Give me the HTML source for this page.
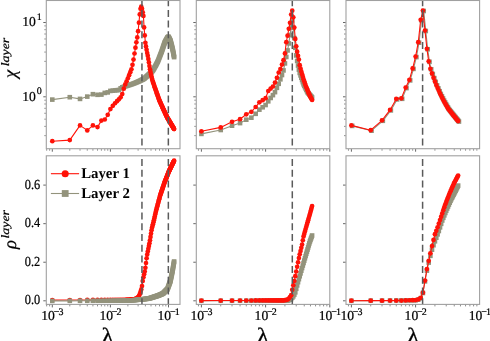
<!DOCTYPE html>
<html><head><meta charset="utf-8"><title>chart</title>
<style>html,body{margin:0;padding:0;background:#fff;width:490px;height:341px;overflow:hidden}
svg{display:block;font-family:"Liberation Serif",serif;will-change:transform}text{text-rendering:geometricPrecision}</style></head>
<body>
<svg width="490" height="341" viewBox="0 0 490 341">
<rect width="490" height="341" fill="#ffffff"/>
<clipPath id="clip0top"><rect x="46.3" y="0.5" width="133.7" height="148.2"/></clipPath>
<g clip-path="url(#clip0top)"><path d="M52.3 99.6 L69.79 97.2 L80.02 98.9 L87.28 96.6 L92.91 94.2 L97.51 94.8 L101.4 94.6 L104.77 92.9 L107.74 92.4 L110.4 90.9 L112.8 90.64 L115 90.41 L117.02 90.2 L118.89 90 L120.63 88.38 L122.26 87.3 L123.79 86.82 L125.23 86.36 L126.6 85.93 L127.89 85.52 L129.12 85.14 L130.29 84.76 L131.42 84.35 L132.49 83.94 L133.52 83.55 L134.51 83.17 L135.46 82.81 L136.38 82.43 L137.27 82.04 L138.12 81.66 L138.95 81.28 L139.75 80.9 L140.53 80.52 L141.28 80.16 L142.01 79.81 L142.72 79.47 L143.41 79.13 L144.09 78.73 L144.74 78.14 L145.38 77.57 L146 77 L146.61 76.46 L147.2 75.92 L147.78 75.4 L148.35 74.89 L148.91 74.39 L149.45 73.9 L149.98 73.42 L150.5 72.95 L151.01 72.49 L151.51 71.94 L152 71.4 L152.48 70.87 L152.95 70.35 L153.42 69.57 L153.87 68.76 L154.32 67.97 L154.76 67.2 L155.19 66.44 L155.61 65.69 L156.03 64.94 L156.44 64.12 L156.84 63.32 L157.24 62.52 L157.63 61.74 L158.02 60.96 L158.39 59.98 L158.77 59.01 L159.14 58.05 L159.5 57.11 L159.86 56.18 L160.21 55.26 L160.56 54.36 L160.9 53.47 L161.24 52.59 L161.58 51.72 L161.91 50.8 L162.23 49.84 L162.55 48.9 L162.87 47.97 L163.18 47.05 L163.49 46.14 L163.8 45.24 L164.1 44.36 L164.4 43.48 L164.69 42.62 L164.99 42.1 L165.27 41.59 L165.56 41.09 L165.84 40.59 L166.12 40.1 L166.4 39.62 L166.67 39.14 L166.94 38.66 L167.21 38.19 L167.47 37.73 L167.73 37.37 L167.99 37.11 L168.25 36.85 L168.5 36.9 L168.75 37.42 L169 37.93 L169.25 38.43 L169.49 38.93 L169.73 39.42 L169.97 39.91 L170.21 40.4 L170.44 40.88 L170.67 41.5 L170.9 42.42 L171.13 43.33 L171.36 44.24 L171.58 45.14 L171.81 46.02 L172.03 46.91 L172.25 47.78 L172.46 48.65 L172.68 49.51 L172.89 50.48 L173.1 51.61 L173.31 52.73 L173.52 53.84 L173.72 54.95 L173.93 56.04 L174.13 57.13" fill="none" stroke="#93937c" stroke-width="1.1" stroke-linejoin="round"/><g fill="#93937c"><rect x="50" y="97.3" width="4.6" height="4.6"/><rect x="67.49" y="94.9" width="4.6" height="4.6"/><rect x="77.72" y="96.6" width="4.6" height="4.6"/><rect x="84.98" y="94.3" width="4.6" height="4.6"/><rect x="90.61" y="91.9" width="4.6" height="4.6"/><rect x="95.21" y="92.5" width="4.6" height="4.6"/><rect x="99.1" y="92.3" width="4.6" height="4.6"/><rect x="102.47" y="90.6" width="4.6" height="4.6"/><rect x="105.44" y="90.1" width="4.6" height="4.6"/><rect x="108.1" y="88.6" width="4.6" height="4.6"/><rect x="110.5" y="88.34" width="4.6" height="4.6"/><rect x="112.7" y="88.11" width="4.6" height="4.6"/><rect x="114.72" y="87.9" width="4.6" height="4.6"/><rect x="116.59" y="87.7" width="4.6" height="4.6"/><rect x="118.33" y="86.08" width="4.6" height="4.6"/><rect x="119.96" y="85" width="4.6" height="4.6"/><rect x="121.49" y="84.52" width="4.6" height="4.6"/><rect x="122.93" y="84.06" width="4.6" height="4.6"/><rect x="124.3" y="83.63" width="4.6" height="4.6"/><rect x="125.59" y="83.22" width="4.6" height="4.6"/><rect x="126.82" y="82.84" width="4.6" height="4.6"/><rect x="127.99" y="82.46" width="4.6" height="4.6"/><rect x="129.12" y="82.05" width="4.6" height="4.6"/><rect x="130.19" y="81.64" width="4.6" height="4.6"/><rect x="131.22" y="81.25" width="4.6" height="4.6"/><rect x="132.21" y="80.87" width="4.6" height="4.6"/><rect x="133.16" y="80.51" width="4.6" height="4.6"/><rect x="134.08" y="80.13" width="4.6" height="4.6"/><rect x="134.97" y="79.74" width="4.6" height="4.6"/><rect x="135.82" y="79.36" width="4.6" height="4.6"/><rect x="136.65" y="78.98" width="4.6" height="4.6"/><rect x="137.45" y="78.6" width="4.6" height="4.6"/><rect x="138.23" y="78.22" width="4.6" height="4.6"/><rect x="138.98" y="77.86" width="4.6" height="4.6"/><rect x="139.71" y="77.51" width="4.6" height="4.6"/><rect x="140.42" y="77.17" width="4.6" height="4.6"/><rect x="141.11" y="76.83" width="4.6" height="4.6"/><rect x="141.79" y="76.43" width="4.6" height="4.6"/><rect x="142.44" y="75.84" width="4.6" height="4.6"/><rect x="143.08" y="75.27" width="4.6" height="4.6"/><rect x="143.7" y="74.7" width="4.6" height="4.6"/><rect x="144.31" y="74.16" width="4.6" height="4.6"/><rect x="144.9" y="73.62" width="4.6" height="4.6"/><rect x="145.48" y="73.1" width="4.6" height="4.6"/><rect x="146.05" y="72.59" width="4.6" height="4.6"/><rect x="146.61" y="72.09" width="4.6" height="4.6"/><rect x="147.15" y="71.6" width="4.6" height="4.6"/><rect x="147.68" y="71.12" width="4.6" height="4.6"/><rect x="148.2" y="70.65" width="4.6" height="4.6"/><rect x="148.71" y="70.19" width="4.6" height="4.6"/><rect x="149.21" y="69.64" width="4.6" height="4.6"/><rect x="149.7" y="69.1" width="4.6" height="4.6"/><rect x="150.18" y="68.57" width="4.6" height="4.6"/><rect x="150.65" y="68.05" width="4.6" height="4.6"/><rect x="151.12" y="67.27" width="4.6" height="4.6"/><rect x="151.57" y="66.46" width="4.6" height="4.6"/><rect x="152.02" y="65.67" width="4.6" height="4.6"/><rect x="152.46" y="64.9" width="4.6" height="4.6"/><rect x="152.89" y="64.14" width="4.6" height="4.6"/><rect x="153.31" y="63.39" width="4.6" height="4.6"/><rect x="153.73" y="62.64" width="4.6" height="4.6"/><rect x="154.14" y="61.82" width="4.6" height="4.6"/><rect x="154.54" y="61.02" width="4.6" height="4.6"/><rect x="154.94" y="60.22" width="4.6" height="4.6"/><rect x="155.33" y="59.44" width="4.6" height="4.6"/><rect x="155.72" y="58.66" width="4.6" height="4.6"/><rect x="156.09" y="57.68" width="4.6" height="4.6"/><rect x="156.47" y="56.71" width="4.6" height="4.6"/><rect x="156.84" y="55.75" width="4.6" height="4.6"/><rect x="157.2" y="54.81" width="4.6" height="4.6"/><rect x="157.56" y="53.88" width="4.6" height="4.6"/><rect x="157.91" y="52.96" width="4.6" height="4.6"/><rect x="158.26" y="52.06" width="4.6" height="4.6"/><rect x="158.6" y="51.17" width="4.6" height="4.6"/><rect x="158.94" y="50.29" width="4.6" height="4.6"/><rect x="159.28" y="49.42" width="4.6" height="4.6"/><rect x="159.61" y="48.5" width="4.6" height="4.6"/><rect x="159.93" y="47.54" width="4.6" height="4.6"/><rect x="160.25" y="46.6" width="4.6" height="4.6"/><rect x="160.57" y="45.67" width="4.6" height="4.6"/><rect x="160.88" y="44.75" width="4.6" height="4.6"/><rect x="161.19" y="43.84" width="4.6" height="4.6"/><rect x="161.5" y="42.94" width="4.6" height="4.6"/><rect x="161.8" y="42.06" width="4.6" height="4.6"/><rect x="162.1" y="41.18" width="4.6" height="4.6"/><rect x="162.39" y="40.32" width="4.6" height="4.6"/><rect x="162.69" y="39.8" width="4.6" height="4.6"/><rect x="162.97" y="39.29" width="4.6" height="4.6"/><rect x="163.26" y="38.79" width="4.6" height="4.6"/><rect x="163.54" y="38.29" width="4.6" height="4.6"/><rect x="163.82" y="37.8" width="4.6" height="4.6"/><rect x="164.1" y="37.32" width="4.6" height="4.6"/><rect x="164.37" y="36.84" width="4.6" height="4.6"/><rect x="164.64" y="36.36" width="4.6" height="4.6"/><rect x="164.91" y="35.89" width="4.6" height="4.6"/><rect x="165.17" y="35.43" width="4.6" height="4.6"/><rect x="165.43" y="35.07" width="4.6" height="4.6"/><rect x="165.69" y="34.81" width="4.6" height="4.6"/><rect x="165.95" y="34.55" width="4.6" height="4.6"/><rect x="166.2" y="34.6" width="4.6" height="4.6"/><rect x="166.45" y="35.12" width="4.6" height="4.6"/><rect x="166.7" y="35.63" width="4.6" height="4.6"/><rect x="166.95" y="36.13" width="4.6" height="4.6"/><rect x="167.19" y="36.63" width="4.6" height="4.6"/><rect x="167.43" y="37.12" width="4.6" height="4.6"/><rect x="167.67" y="37.61" width="4.6" height="4.6"/><rect x="167.91" y="38.1" width="4.6" height="4.6"/><rect x="168.14" y="38.58" width="4.6" height="4.6"/><rect x="168.37" y="39.2" width="4.6" height="4.6"/><rect x="168.6" y="40.12" width="4.6" height="4.6"/><rect x="168.83" y="41.03" width="4.6" height="4.6"/><rect x="169.06" y="41.94" width="4.6" height="4.6"/><rect x="169.28" y="42.84" width="4.6" height="4.6"/><rect x="169.51" y="43.72" width="4.6" height="4.6"/><rect x="169.73" y="44.61" width="4.6" height="4.6"/><rect x="169.95" y="45.48" width="4.6" height="4.6"/><rect x="170.16" y="46.35" width="4.6" height="4.6"/><rect x="170.38" y="47.21" width="4.6" height="4.6"/><rect x="170.59" y="48.18" width="4.6" height="4.6"/><rect x="170.8" y="49.31" width="4.6" height="4.6"/><rect x="171.01" y="50.43" width="4.6" height="4.6"/><rect x="171.22" y="51.54" width="4.6" height="4.6"/><rect x="171.42" y="52.65" width="4.6" height="4.6"/><rect x="171.63" y="53.74" width="4.6" height="4.6"/><rect x="171.83" y="54.83" width="4.6" height="4.6"/></g><path d="M52.3 141.2 L69.79 140.1 L80.02 125.4 L87.28 130.4 L92.91 125.4 L97.51 127.1 L101.4 120.6 L104.77 119.5 L107.74 114.8 L110.4 109.1 L112.8 105.87 L115 103.27 L117.02 101.18 L118.89 99.31 L120.63 97.25 L122.26 94.08 L123.79 88.65 L125.23 84.43 L126.6 81.36 L127.89 78.25 L129.12 75.13 L130.29 72.16 L131.42 69.36 L132.49 64.84 L133.52 59.62 L134.51 53.51 L135.46 47.64 L136.38 42.33 L137.27 37.44 L138.12 31.2 L138.95 22.64 L139.75 14.39 L140.53 8.73 L141.28 6.64 L142.01 8.81 L142.72 12.24 L143.41 15.9 L144.09 27.39 L144.74 35.4 L145.38 42.77 L146 46.44 L146.61 49.86 L147.2 53 L147.78 55.84 L148.35 59.06 L148.91 62.42 L149.45 66.1 L149.98 69.25 L150.5 71.94 L151.01 74.47 L151.51 76.61 L152 78.71 L152.48 80.54 L152.95 81.96 L153.42 83.35 L153.87 84.71 L154.32 86.05 L154.76 87.37 L155.19 88.6 L155.61 89.73 L156.03 90.84 L156.44 92 L156.84 93.18 L157.24 94.34 L157.63 95.48 L158.02 96.61 L158.39 97.72 L158.77 98.81 L159.14 99.68 L159.5 100.53 L159.86 101.36 L160.21 102.18 L160.56 102.98 L160.9 103.78 L161.24 104.57 L161.58 105.34 L161.91 106.06 L162.23 106.76 L162.55 107.46 L162.87 108.15 L163.18 108.82 L163.49 109.49 L163.8 110.16 L164.1 110.81 L164.4 111.46 L164.69 112.1 L164.99 112.73 L165.27 113.35 L165.56 113.97 L165.84 114.58 L166.12 115.18 L166.4 115.78 L166.67 116.37 L166.94 116.95 L167.21 117.48 L167.47 117.92 L167.73 118.36 L167.99 118.79 L168.25 119.22 L168.5 119.65 L168.75 120.07 L169 120.48 L169.25 120.9 L169.49 121.31 L169.73 121.71 L169.97 122.11 L170.21 122.51 L170.44 122.9 L170.67 123.29 L170.9 123.68 L171.13 124.06 L171.36 124.44 L171.58 124.82 L171.81 125.19 L172.03 125.56 L172.25 125.92 L172.46 126.29 L172.68 126.65 L172.89 127 L173.1 127.36 L173.31 127.71 L173.52 128.06 L173.72 128.4 L173.93 128.74 L174.13 129.08" fill="none" stroke="#ff1208" stroke-width="1.1" stroke-linejoin="round"/><g fill="#ff1208"><circle cx="52.3" cy="141.2" r="2.35"/><circle cx="69.79" cy="140.1" r="2.35"/><circle cx="80.02" cy="125.4" r="2.35"/><circle cx="87.28" cy="130.4" r="2.35"/><circle cx="92.91" cy="125.4" r="2.35"/><circle cx="97.51" cy="127.1" r="2.35"/><circle cx="101.4" cy="120.6" r="2.35"/><circle cx="104.77" cy="119.5" r="2.35"/><circle cx="107.74" cy="114.8" r="2.35"/><circle cx="110.4" cy="109.1" r="2.35"/><circle cx="112.8" cy="105.87" r="2.35"/><circle cx="115" cy="103.27" r="2.35"/><circle cx="117.02" cy="101.18" r="2.35"/><circle cx="118.89" cy="99.31" r="2.35"/><circle cx="120.63" cy="97.25" r="2.35"/><circle cx="122.26" cy="94.08" r="2.35"/><circle cx="123.79" cy="88.65" r="2.35"/><circle cx="125.23" cy="84.43" r="2.35"/><circle cx="126.6" cy="81.36" r="2.35"/><circle cx="127.89" cy="78.25" r="2.35"/><circle cx="129.12" cy="75.13" r="2.35"/><circle cx="130.29" cy="72.16" r="2.35"/><circle cx="131.42" cy="69.36" r="2.35"/><circle cx="132.49" cy="64.84" r="2.35"/><circle cx="133.52" cy="59.62" r="2.35"/><circle cx="134.51" cy="53.51" r="2.35"/><circle cx="135.46" cy="47.64" r="2.35"/><circle cx="136.38" cy="42.33" r="2.35"/><circle cx="137.27" cy="37.44" r="2.35"/><circle cx="138.12" cy="31.2" r="2.35"/><circle cx="138.95" cy="22.64" r="2.35"/><circle cx="139.75" cy="14.39" r="2.35"/><circle cx="140.53" cy="8.73" r="2.35"/><circle cx="141.28" cy="6.64" r="2.35"/><circle cx="142.01" cy="8.81" r="2.35"/><circle cx="142.72" cy="12.24" r="2.35"/><circle cx="143.41" cy="15.9" r="2.35"/><circle cx="144.09" cy="27.39" r="2.35"/><circle cx="144.74" cy="35.4" r="2.35"/><circle cx="145.38" cy="42.77" r="2.35"/><circle cx="146" cy="46.44" r="2.35"/><circle cx="146.61" cy="49.86" r="2.35"/><circle cx="147.2" cy="53" r="2.35"/><circle cx="147.78" cy="55.84" r="2.35"/><circle cx="148.35" cy="59.06" r="2.35"/><circle cx="148.91" cy="62.42" r="2.35"/><circle cx="149.45" cy="66.1" r="2.35"/><circle cx="149.98" cy="69.25" r="2.35"/><circle cx="150.5" cy="71.94" r="2.35"/><circle cx="151.01" cy="74.47" r="2.35"/><circle cx="151.51" cy="76.61" r="2.35"/><circle cx="152" cy="78.71" r="2.35"/><circle cx="152.48" cy="80.54" r="2.35"/><circle cx="152.95" cy="81.96" r="2.35"/><circle cx="153.42" cy="83.35" r="2.35"/><circle cx="153.87" cy="84.71" r="2.35"/><circle cx="154.32" cy="86.05" r="2.35"/><circle cx="154.76" cy="87.37" r="2.35"/><circle cx="155.19" cy="88.6" r="2.35"/><circle cx="155.61" cy="89.73" r="2.35"/><circle cx="156.03" cy="90.84" r="2.35"/><circle cx="156.44" cy="92" r="2.35"/><circle cx="156.84" cy="93.18" r="2.35"/><circle cx="157.24" cy="94.34" r="2.35"/><circle cx="157.63" cy="95.48" r="2.35"/><circle cx="158.02" cy="96.61" r="2.35"/><circle cx="158.39" cy="97.72" r="2.35"/><circle cx="158.77" cy="98.81" r="2.35"/><circle cx="159.14" cy="99.68" r="2.35"/><circle cx="159.5" cy="100.53" r="2.35"/><circle cx="159.86" cy="101.36" r="2.35"/><circle cx="160.21" cy="102.18" r="2.35"/><circle cx="160.56" cy="102.98" r="2.35"/><circle cx="160.9" cy="103.78" r="2.35"/><circle cx="161.24" cy="104.57" r="2.35"/><circle cx="161.58" cy="105.34" r="2.35"/><circle cx="161.91" cy="106.06" r="2.35"/><circle cx="162.23" cy="106.76" r="2.35"/><circle cx="162.55" cy="107.46" r="2.35"/><circle cx="162.87" cy="108.15" r="2.35"/><circle cx="163.18" cy="108.82" r="2.35"/><circle cx="163.49" cy="109.49" r="2.35"/><circle cx="163.8" cy="110.16" r="2.35"/><circle cx="164.1" cy="110.81" r="2.35"/><circle cx="164.4" cy="111.46" r="2.35"/><circle cx="164.69" cy="112.1" r="2.35"/><circle cx="164.99" cy="112.73" r="2.35"/><circle cx="165.27" cy="113.35" r="2.35"/><circle cx="165.56" cy="113.97" r="2.35"/><circle cx="165.84" cy="114.58" r="2.35"/><circle cx="166.12" cy="115.18" r="2.35"/><circle cx="166.4" cy="115.78" r="2.35"/><circle cx="166.67" cy="116.37" r="2.35"/><circle cx="166.94" cy="116.95" r="2.35"/><circle cx="167.21" cy="117.48" r="2.35"/><circle cx="167.47" cy="117.92" r="2.35"/><circle cx="167.73" cy="118.36" r="2.35"/><circle cx="167.99" cy="118.79" r="2.35"/><circle cx="168.25" cy="119.22" r="2.35"/><circle cx="168.5" cy="119.65" r="2.35"/><circle cx="168.75" cy="120.07" r="2.35"/><circle cx="169" cy="120.48" r="2.35"/><circle cx="169.25" cy="120.9" r="2.35"/><circle cx="169.49" cy="121.31" r="2.35"/><circle cx="169.73" cy="121.71" r="2.35"/><circle cx="169.97" cy="122.11" r="2.35"/><circle cx="170.21" cy="122.51" r="2.35"/><circle cx="170.44" cy="122.9" r="2.35"/><circle cx="170.67" cy="123.29" r="2.35"/><circle cx="170.9" cy="123.68" r="2.35"/><circle cx="171.13" cy="124.06" r="2.35"/><circle cx="171.36" cy="124.44" r="2.35"/><circle cx="171.58" cy="124.82" r="2.35"/><circle cx="171.81" cy="125.19" r="2.35"/><circle cx="172.03" cy="125.56" r="2.35"/><circle cx="172.25" cy="125.92" r="2.35"/><circle cx="172.46" cy="126.29" r="2.35"/><circle cx="172.68" cy="126.65" r="2.35"/><circle cx="172.89" cy="127" r="2.35"/><circle cx="173.1" cy="127.36" r="2.35"/><circle cx="173.31" cy="127.71" r="2.35"/><circle cx="173.52" cy="128.06" r="2.35"/><circle cx="173.72" cy="128.4" r="2.35"/><circle cx="173.93" cy="128.74" r="2.35"/><circle cx="174.13" cy="129.08" r="2.35"/></g></g>
<line x1="141.95" y1="0.5" x2="141.95" y2="148.7" stroke="#5a5a5a" stroke-width="1.5" stroke-dasharray="7 3.71" stroke-dashoffset="1.3"/>
<line x1="168.35" y1="0.5" x2="168.35" y2="148.7" stroke="#5a5a5a" stroke-width="1.5" stroke-dasharray="7 3.71" stroke-dashoffset="1.3"/>
<rect x="46.3" y="0.5" width="133.7" height="148.2" fill="none" stroke="#a0a0a0" stroke-width="1.1"/>
<path d="M52.3 149.2v2.5M110.4 149.2v2.5M168.5 149.2v2.5M45.8 96.8h-2.5M45.8 22.5h-2.5" stroke="#555555" stroke-width="0.9" fill="none"/>
<path d="M46.67 149.2v1.5M49.64 149.2v1.5M69.79 149.2v1.5M80.02 149.2v1.5M87.28 149.2v1.5M92.91 149.2v1.5M97.51 149.2v1.5M101.4 149.2v1.5M104.77 149.2v1.5M107.74 149.2v1.5M127.89 149.2v1.5M138.12 149.2v1.5M145.38 149.2v1.5M151.01 149.2v1.5M155.61 149.2v1.5M159.5 149.2v1.5M162.87 149.2v1.5M165.84 149.2v1.5M45.8 135.65h-1.5M45.8 126.37h-1.5M45.8 119.17h-1.5M45.8 113.28h-1.5M45.8 108.31h-1.5M45.8 104h-1.5M45.8 100.2h-1.5M45.8 74.43h-1.5M45.8 61.35h-1.5M45.8 52.07h-1.5M45.8 44.87h-1.5M45.8 38.98h-1.5M45.8 34.01h-1.5M45.8 29.7h-1.5M45.8 25.9h-1.5" stroke="#6a6a6a" stroke-width="0.75" fill="none"/>
<clipPath id="clip1top"><rect x="196.3" y="0.5" width="133.5" height="148.2"/></clipPath>
<g clip-path="url(#clip1top)"><path d="M201.4 133.9 L220.73 130 L232.03 125.7 L240.05 123.1 L246.27 119.7 L251.36 117.7 L255.66 113.8 L259.38 109.65 L262.66 107.28 L265.6 105.02 L268.26 101.32 L270.68 97.97 L272.92 95.14 L274.98 92.14 L276.91 87.83 L278.7 83.79 L280.39 79.32 L281.99 75.03 L283.5 70.43 L284.93 63.4 L286.29 56.97 L287.58 50.44 L288.82 43.43 L290.01 35.05 L291.15 27.35 L292.24 20.37 L293.29 27.95 L294.31 38.08 L295.29 47.86 L296.23 55.45 L297.15 60.93 L298.03 65.51 L298.89 69.58 L299.72 72.96 L300.53 75.39 L301.31 77.74 L302.08 80 L302.82 82.2 L303.55 84.29 L304.25 85.7 L304.94 87.08 L305.61 88.43 L306.27 89.74 L306.91 91.02 L307.54 92.27 L308.15 93.02 L308.75 93.7 L309.34 94.37 L309.91 95.02 L310.47 95.66 L311.03 96.28 L311.57 96.9 L312.1 97.5" fill="none" stroke="#93937c" stroke-width="1.1" stroke-linejoin="round"/><g fill="#93937c"><rect x="199.1" y="131.6" width="4.6" height="4.6"/><rect x="218.43" y="127.7" width="4.6" height="4.6"/><rect x="229.73" y="123.4" width="4.6" height="4.6"/><rect x="237.75" y="120.8" width="4.6" height="4.6"/><rect x="243.97" y="117.4" width="4.6" height="4.6"/><rect x="249.06" y="115.4" width="4.6" height="4.6"/><rect x="253.36" y="111.5" width="4.6" height="4.6"/><rect x="257.08" y="107.35" width="4.6" height="4.6"/><rect x="260.36" y="104.98" width="4.6" height="4.6"/><rect x="263.3" y="102.72" width="4.6" height="4.6"/><rect x="265.96" y="99.02" width="4.6" height="4.6"/><rect x="268.38" y="95.67" width="4.6" height="4.6"/><rect x="270.62" y="92.84" width="4.6" height="4.6"/><rect x="272.68" y="89.84" width="4.6" height="4.6"/><rect x="274.61" y="85.53" width="4.6" height="4.6"/><rect x="276.4" y="81.49" width="4.6" height="4.6"/><rect x="278.09" y="77.02" width="4.6" height="4.6"/><rect x="279.69" y="72.73" width="4.6" height="4.6"/><rect x="281.2" y="68.13" width="4.6" height="4.6"/><rect x="282.63" y="61.1" width="4.6" height="4.6"/><rect x="283.99" y="54.67" width="4.6" height="4.6"/><rect x="285.28" y="48.14" width="4.6" height="4.6"/><rect x="286.52" y="41.13" width="4.6" height="4.6"/><rect x="287.71" y="32.75" width="4.6" height="4.6"/><rect x="288.85" y="25.05" width="4.6" height="4.6"/><rect x="289.94" y="18.07" width="4.6" height="4.6"/><rect x="290.99" y="25.65" width="4.6" height="4.6"/><rect x="292.01" y="35.78" width="4.6" height="4.6"/><rect x="292.99" y="45.56" width="4.6" height="4.6"/><rect x="293.93" y="53.15" width="4.6" height="4.6"/><rect x="294.85" y="58.63" width="4.6" height="4.6"/><rect x="295.73" y="63.21" width="4.6" height="4.6"/><rect x="296.59" y="67.28" width="4.6" height="4.6"/><rect x="297.42" y="70.66" width="4.6" height="4.6"/><rect x="298.23" y="73.09" width="4.6" height="4.6"/><rect x="299.01" y="75.44" width="4.6" height="4.6"/><rect x="299.78" y="77.7" width="4.6" height="4.6"/><rect x="300.52" y="79.9" width="4.6" height="4.6"/><rect x="301.25" y="81.99" width="4.6" height="4.6"/><rect x="301.95" y="83.4" width="4.6" height="4.6"/><rect x="302.64" y="84.78" width="4.6" height="4.6"/><rect x="303.31" y="86.13" width="4.6" height="4.6"/><rect x="303.97" y="87.44" width="4.6" height="4.6"/><rect x="304.61" y="88.72" width="4.6" height="4.6"/><rect x="305.24" y="89.97" width="4.6" height="4.6"/><rect x="305.85" y="90.72" width="4.6" height="4.6"/><rect x="306.45" y="91.4" width="4.6" height="4.6"/><rect x="307.04" y="92.07" width="4.6" height="4.6"/><rect x="307.61" y="92.72" width="4.6" height="4.6"/><rect x="308.17" y="93.36" width="4.6" height="4.6"/><rect x="308.73" y="93.98" width="4.6" height="4.6"/><rect x="309.27" y="94.6" width="4.6" height="4.6"/><rect x="309.8" y="95.2" width="4.6" height="4.6"/></g><path d="M201.4 131.3 L220.73 127.4 L232.03 121.8 L240.05 119.2 L246.27 114.3 L251.36 111.8 L255.66 107 L259.38 102.33 L262.66 100.14 L265.6 98.2 L268.26 90.99 L270.68 88.54 L272.92 86.52 L274.98 82.58 L276.91 77.8 L278.7 72.49 L280.39 69.03 L281.99 64.53 L283.5 60.13 L284.93 53.38 L286.29 42.16 L287.58 35.64 L288.82 28.79 L290.01 22.83 L291.15 14.48 L292.24 10.72 L293.29 17.35 L294.31 27.55 L295.29 38.93 L296.23 46.32 L297.15 51.68 L298.03 55.82 L298.89 59.5 L299.72 65.16 L300.53 68.48 L301.31 71.47 L302.08 74.13 L302.82 76.68 L303.55 79.14 L304.25 81.33 L304.94 83.47 L305.61 85.47 L306.27 87.07 L306.91 88.62 L307.54 90.15 L308.15 91.66 L308.75 93.14 L309.34 94.6 L309.91 95.89 L310.47 96.95 L311.03 97.99 L311.57 99 L312.1 100" fill="none" stroke="#ff1208" stroke-width="1.1" stroke-linejoin="round"/><g fill="#ff1208"><circle cx="201.4" cy="131.3" r="2.35"/><circle cx="220.73" cy="127.4" r="2.35"/><circle cx="232.03" cy="121.8" r="2.35"/><circle cx="240.05" cy="119.2" r="2.35"/><circle cx="246.27" cy="114.3" r="2.35"/><circle cx="251.36" cy="111.8" r="2.35"/><circle cx="255.66" cy="107" r="2.35"/><circle cx="259.38" cy="102.33" r="2.35"/><circle cx="262.66" cy="100.14" r="2.35"/><circle cx="265.6" cy="98.2" r="2.35"/><circle cx="268.26" cy="90.99" r="2.35"/><circle cx="270.68" cy="88.54" r="2.35"/><circle cx="272.92" cy="86.52" r="2.35"/><circle cx="274.98" cy="82.58" r="2.35"/><circle cx="276.91" cy="77.8" r="2.35"/><circle cx="278.7" cy="72.49" r="2.35"/><circle cx="280.39" cy="69.03" r="2.35"/><circle cx="281.99" cy="64.53" r="2.35"/><circle cx="283.5" cy="60.13" r="2.35"/><circle cx="284.93" cy="53.38" r="2.35"/><circle cx="286.29" cy="42.16" r="2.35"/><circle cx="287.58" cy="35.64" r="2.35"/><circle cx="288.82" cy="28.79" r="2.35"/><circle cx="290.01" cy="22.83" r="2.35"/><circle cx="291.15" cy="14.48" r="2.35"/><circle cx="292.24" cy="10.72" r="2.35"/><circle cx="293.29" cy="17.35" r="2.35"/><circle cx="294.31" cy="27.55" r="2.35"/><circle cx="295.29" cy="38.93" r="2.35"/><circle cx="296.23" cy="46.32" r="2.35"/><circle cx="297.15" cy="51.68" r="2.35"/><circle cx="298.03" cy="55.82" r="2.35"/><circle cx="298.89" cy="59.5" r="2.35"/><circle cx="299.72" cy="65.16" r="2.35"/><circle cx="300.53" cy="68.48" r="2.35"/><circle cx="301.31" cy="71.47" r="2.35"/><circle cx="302.08" cy="74.13" r="2.35"/><circle cx="302.82" cy="76.68" r="2.35"/><circle cx="303.55" cy="79.14" r="2.35"/><circle cx="304.25" cy="81.33" r="2.35"/><circle cx="304.94" cy="83.47" r="2.35"/><circle cx="305.61" cy="85.47" r="2.35"/><circle cx="306.27" cy="87.07" r="2.35"/><circle cx="306.91" cy="88.62" r="2.35"/><circle cx="307.54" cy="90.15" r="2.35"/><circle cx="308.15" cy="91.66" r="2.35"/><circle cx="308.75" cy="93.14" r="2.35"/><circle cx="309.34" cy="94.6" r="2.35"/><circle cx="309.91" cy="95.89" r="2.35"/><circle cx="310.47" cy="96.95" r="2.35"/><circle cx="311.03" cy="97.99" r="2.35"/><circle cx="311.57" cy="99" r="2.35"/><circle cx="312.1" cy="100" r="2.35"/></g></g>
<line x1="292.3" y1="0.5" x2="292.3" y2="148.7" stroke="#5a5a5a" stroke-width="1.5" stroke-dasharray="7 3.71" stroke-dashoffset="1.3"/>
<rect x="196.3" y="0.5" width="133.5" height="148.2" fill="none" stroke="#a0a0a0" stroke-width="1.1"/>
<path d="M201.4 149.2v2.5M265.6 149.2v2.5M329.8 149.2v2.5M195.8 96.8h-2.5M195.8 22.5h-2.5" stroke="#555555" stroke-width="0.9" fill="none"/>
<path d="M198.46 149.2v1.5M220.73 149.2v1.5M232.03 149.2v1.5M240.05 149.2v1.5M246.27 149.2v1.5M251.36 149.2v1.5M255.66 149.2v1.5M259.38 149.2v1.5M262.66 149.2v1.5M284.93 149.2v1.5M296.23 149.2v1.5M304.25 149.2v1.5M310.47 149.2v1.5M315.56 149.2v1.5M319.86 149.2v1.5M323.58 149.2v1.5M326.86 149.2v1.5M195.8 135.65h-1.5M195.8 126.37h-1.5M195.8 119.17h-1.5M195.8 113.28h-1.5M195.8 108.31h-1.5M195.8 104h-1.5M195.8 100.2h-1.5M195.8 74.43h-1.5M195.8 61.35h-1.5M195.8 52.07h-1.5M195.8 44.87h-1.5M195.8 38.98h-1.5M195.8 34.01h-1.5M195.8 29.7h-1.5M195.8 25.9h-1.5" stroke="#6a6a6a" stroke-width="0.75" fill="none"/>
<clipPath id="clip2top"><rect x="346" y="0.5" width="133.6" height="148.2"/></clipPath>
<g clip-path="url(#clip2top)"><path d="M352.2 125.9 L371.53 130.7 L382.83 120.8 L390.85 110.4 L397.07 99.4 L402.16 98.8 L406.46 88.1 L410.18 80.4 L413.46 68.9 L416.4 57.1 L419.06 42.7 L421.48 20.3 L423.72 11 L425.78 31 L427.71 49.24 L429.5 61.82 L431.19 69.28 L432.79 73.97 L434.3 78.13 L435.73 81.92 L437.09 85.41 L438.38 88.4 L439.62 91.22 L440.81 93.92 L441.95 96.23 L443.04 98.45 L444.09 100.58 L445.11 102.41 L446.09 104.12 L447.03 105.77 L447.95 107.36 L448.83 108.9 L449.69 110.06 L450.52 111.11 L451.33 112.12 L452.11 113.11 L452.88 114.07 L453.62 115 L454.35 115.89 L455.05 116.76 L455.74 117.6 L456.41 118.43 L457.07 119.23 L457.71 120.02 L458.34 120.79 L458.95 121.54" fill="none" stroke="#93937c" stroke-width="1.1" stroke-linejoin="round"/><g fill="#93937c"><rect x="349.9" y="123.6" width="4.6" height="4.6"/><rect x="369.23" y="128.4" width="4.6" height="4.6"/><rect x="380.53" y="118.5" width="4.6" height="4.6"/><rect x="388.55" y="108.1" width="4.6" height="4.6"/><rect x="394.77" y="97.1" width="4.6" height="4.6"/><rect x="399.86" y="96.5" width="4.6" height="4.6"/><rect x="404.16" y="85.8" width="4.6" height="4.6"/><rect x="407.88" y="78.1" width="4.6" height="4.6"/><rect x="411.16" y="66.6" width="4.6" height="4.6"/><rect x="414.1" y="54.8" width="4.6" height="4.6"/><rect x="416.76" y="40.4" width="4.6" height="4.6"/><rect x="419.18" y="18" width="4.6" height="4.6"/><rect x="421.42" y="8.7" width="4.6" height="4.6"/><rect x="423.48" y="28.7" width="4.6" height="4.6"/><rect x="425.41" y="46.94" width="4.6" height="4.6"/><rect x="427.2" y="59.52" width="4.6" height="4.6"/><rect x="428.89" y="66.98" width="4.6" height="4.6"/><rect x="430.49" y="71.67" width="4.6" height="4.6"/><rect x="432" y="75.83" width="4.6" height="4.6"/><rect x="433.43" y="79.62" width="4.6" height="4.6"/><rect x="434.79" y="83.11" width="4.6" height="4.6"/><rect x="436.08" y="86.1" width="4.6" height="4.6"/><rect x="437.32" y="88.92" width="4.6" height="4.6"/><rect x="438.51" y="91.62" width="4.6" height="4.6"/><rect x="439.65" y="93.93" width="4.6" height="4.6"/><rect x="440.74" y="96.15" width="4.6" height="4.6"/><rect x="441.79" y="98.28" width="4.6" height="4.6"/><rect x="442.81" y="100.11" width="4.6" height="4.6"/><rect x="443.79" y="101.82" width="4.6" height="4.6"/><rect x="444.73" y="103.47" width="4.6" height="4.6"/><rect x="445.65" y="105.06" width="4.6" height="4.6"/><rect x="446.53" y="106.6" width="4.6" height="4.6"/><rect x="447.39" y="107.76" width="4.6" height="4.6"/><rect x="448.22" y="108.81" width="4.6" height="4.6"/><rect x="449.03" y="109.82" width="4.6" height="4.6"/><rect x="449.81" y="110.81" width="4.6" height="4.6"/><rect x="450.58" y="111.77" width="4.6" height="4.6"/><rect x="451.32" y="112.7" width="4.6" height="4.6"/><rect x="452.05" y="113.59" width="4.6" height="4.6"/><rect x="452.75" y="114.46" width="4.6" height="4.6"/><rect x="453.44" y="115.3" width="4.6" height="4.6"/><rect x="454.11" y="116.13" width="4.6" height="4.6"/><rect x="454.77" y="116.93" width="4.6" height="4.6"/><rect x="455.41" y="117.72" width="4.6" height="4.6"/><rect x="456.04" y="118.49" width="4.6" height="4.6"/><rect x="456.65" y="119.24" width="4.6" height="4.6"/></g><path d="M351.4 125.4 L370.73 130.2 L382.03 120.3 L390.05 109.9 L396.27 98.9 L401.36 98.3 L405.66 87.6 L409.38 79.9 L412.66 68.4 L415.6 56.6 L418.26 42.2 L420.68 19.8 L422.92 10.5 L424.98 30.5 L426.91 48.74 L428.7 61.32 L430.39 68.78 L431.99 73.47 L433.5 77.63 L434.93 81.42 L436.29 84.91 L437.58 87.9 L438.82 90.72 L440.01 93.42 L441.15 95.73 L442.24 97.95 L443.29 100.08 L444.31 101.91 L445.29 103.62 L446.23 105.27 L447.15 106.86 L448.03 108.4 L448.89 109.56 L449.72 110.61 L450.53 111.62 L451.31 112.61 L452.08 113.57 L452.82 114.5 L453.55 115.39 L454.25 116.26 L454.94 117.1 L455.61 117.93 L456.27 118.73 L456.91 119.52 L457.54 120.29 L458.15 121.04" fill="none" stroke="#ff1208" stroke-width="1.1" stroke-linejoin="round"/><g fill="#ff1208"><circle cx="351.4" cy="125.4" r="2.35"/><circle cx="370.73" cy="130.2" r="2.35"/><circle cx="382.03" cy="120.3" r="2.35"/><circle cx="390.05" cy="109.9" r="2.35"/><circle cx="396.27" cy="98.9" r="2.35"/><circle cx="401.36" cy="98.3" r="2.35"/><circle cx="405.66" cy="87.6" r="2.35"/><circle cx="409.38" cy="79.9" r="2.35"/><circle cx="412.66" cy="68.4" r="2.35"/><circle cx="415.6" cy="56.6" r="2.35"/><circle cx="418.26" cy="42.2" r="2.35"/><circle cx="420.68" cy="19.8" r="2.35"/><circle cx="422.92" cy="10.5" r="2.35"/><circle cx="424.98" cy="30.5" r="2.35"/><circle cx="426.91" cy="48.74" r="2.35"/><circle cx="428.7" cy="61.32" r="2.35"/><circle cx="430.39" cy="68.78" r="2.35"/><circle cx="431.99" cy="73.47" r="2.35"/><circle cx="433.5" cy="77.63" r="2.35"/><circle cx="434.93" cy="81.42" r="2.35"/><circle cx="436.29" cy="84.91" r="2.35"/><circle cx="437.58" cy="87.9" r="2.35"/><circle cx="438.82" cy="90.72" r="2.35"/><circle cx="440.01" cy="93.42" r="2.35"/><circle cx="441.15" cy="95.73" r="2.35"/><circle cx="442.24" cy="97.95" r="2.35"/><circle cx="443.29" cy="100.08" r="2.35"/><circle cx="444.31" cy="101.91" r="2.35"/><circle cx="445.29" cy="103.62" r="2.35"/><circle cx="446.23" cy="105.27" r="2.35"/><circle cx="447.15" cy="106.86" r="2.35"/><circle cx="448.03" cy="108.4" r="2.35"/><circle cx="448.89" cy="109.56" r="2.35"/><circle cx="449.72" cy="110.61" r="2.35"/><circle cx="450.53" cy="111.62" r="2.35"/><circle cx="451.31" cy="112.61" r="2.35"/><circle cx="452.08" cy="113.57" r="2.35"/><circle cx="452.82" cy="114.5" r="2.35"/><circle cx="453.55" cy="115.39" r="2.35"/><circle cx="454.25" cy="116.26" r="2.35"/><circle cx="454.94" cy="117.1" r="2.35"/><circle cx="455.61" cy="117.93" r="2.35"/><circle cx="456.27" cy="118.73" r="2.35"/><circle cx="456.91" cy="119.52" r="2.35"/><circle cx="457.54" cy="120.29" r="2.35"/><circle cx="458.15" cy="121.04" r="2.35"/></g></g>
<line x1="422.6" y1="0.5" x2="422.6" y2="148.7" stroke="#5a5a5a" stroke-width="1.5" stroke-dasharray="7 3.71" stroke-dashoffset="1.3"/>
<rect x="346" y="0.5" width="133.6" height="148.2" fill="none" stroke="#a0a0a0" stroke-width="1.1"/>
<path d="M351.4 149.2v2.5M415.6 149.2v2.5M345.5 96.8h-2.5M345.5 22.5h-2.5" stroke="#555555" stroke-width="0.9" fill="none"/>
<path d="M348.46 149.2v1.5M370.73 149.2v1.5M382.03 149.2v1.5M390.05 149.2v1.5M396.27 149.2v1.5M401.36 149.2v1.5M405.66 149.2v1.5M409.38 149.2v1.5M412.66 149.2v1.5M434.93 149.2v1.5M446.23 149.2v1.5M454.25 149.2v1.5M460.47 149.2v1.5M465.56 149.2v1.5M469.86 149.2v1.5M473.58 149.2v1.5M476.86 149.2v1.5M345.5 135.65h-1.5M345.5 126.37h-1.5M345.5 119.17h-1.5M345.5 113.28h-1.5M345.5 108.31h-1.5M345.5 104h-1.5M345.5 100.2h-1.5M345.5 74.43h-1.5M345.5 61.35h-1.5M345.5 52.07h-1.5M345.5 44.87h-1.5M345.5 38.98h-1.5M345.5 34.01h-1.5M345.5 29.7h-1.5M345.5 25.9h-1.5" stroke="#6a6a6a" stroke-width="0.75" fill="none"/>
<clipPath id="clip0bot"><rect x="46.3" y="155.8" width="133.7" height="148.6"/></clipPath>
<g clip-path="url(#clip0bot)"><path d="M52.3 300.1 L69.79 300.03 L80.02 299.98 L87.28 299.96 L92.91 299.93 L97.51 299.91 L101.4 299.9 L104.77 299.88 L107.74 299.87 L110.4 299.86 L112.8 299.85 L115 299.84 L117.02 299.83 L118.89 299.83 L120.63 299.82 L122.26 299.81 L123.79 299.8 L125.23 299.79 L126.6 299.7 L127.89 299.62 L129.12 299.54 L130.29 299.47 L131.42 299.39 L132.49 299.33 L133.52 299.26 L134.51 299.2 L135.46 298.73 L136.38 298.29 L137.27 297.86 L138.12 297.09 L138.95 296.11 L139.75 294.2 L140.53 291.76 L141.28 289.44 L142.01 286.11 L142.72 281.08 L143.41 277.23 L144.09 274.35 L144.74 271.54 L145.38 267.82 L146 262.98 L146.61 258.25 L147.2 254.48 L147.78 251.58 L148.35 248.74 L148.91 245.97 L149.45 243.26 L149.98 240.32 L150.5 236.89 L151.01 233.54 L151.51 230.25 L152 227.83 L152.48 225.97 L152.95 224.13 L153.42 222.33 L153.87 220.37 L154.32 218.41 L154.76 216.48 L155.19 214.58 L155.61 212.71 L156.03 210.9 L156.44 209.37 L156.84 207.87 L157.24 206.39 L157.63 204.93 L158.02 203.5 L158.39 202.09 L158.77 200.7 L159.14 199.33 L159.5 197.98 L159.86 196.64 L160.21 195.33 L160.56 194.23 L160.9 193.22 L161.24 192.22 L161.58 191.23 L161.91 190.26 L162.23 189.3 L162.55 188.35 L162.87 187.41 L163.18 186.48 L163.49 185.57 L163.8 184.66 L164.1 183.77 L164.4 182.89 L164.69 182.02 L164.99 181.28 L165.27 180.56 L165.56 179.84 L165.84 179.13 L166.12 178.43 L166.4 177.74 L166.67 177.05 L166.94 176.38 L167.21 175.71 L167.47 175.04 L167.73 174.39 L167.99 173.74 L168.25 173.09 L168.5 172.46 L168.75 171.83 L169 171.2 L169.25 170.69 L169.49 170.19 L169.73 169.7 L169.97 169.2 L170.21 168.72 L170.44 168.23 L170.67 167.75 L170.9 167.28 L171.13 166.81 L171.36 166.34 L171.58 165.88 L171.81 165.43 L172.03 164.97 L172.25 164.52 L172.46 164.08 L172.68 163.64 L172.89 163.2 L173.1 162.76 L173.31 162.33 L173.52 161.9 L173.72 161.48 L173.93 161.06 L174.13 160.64" fill="none" stroke="#ff1208" stroke-width="1.1" stroke-linejoin="round"/><g fill="#ff1208"><circle cx="52.3" cy="300.1" r="2.35"/><circle cx="69.79" cy="300.03" r="2.35"/><circle cx="80.02" cy="299.98" r="2.35"/><circle cx="87.28" cy="299.96" r="2.35"/><circle cx="92.91" cy="299.93" r="2.35"/><circle cx="97.51" cy="299.91" r="2.35"/><circle cx="101.4" cy="299.9" r="2.35"/><circle cx="104.77" cy="299.88" r="2.35"/><circle cx="107.74" cy="299.87" r="2.35"/><circle cx="110.4" cy="299.86" r="2.35"/><circle cx="112.8" cy="299.85" r="2.35"/><circle cx="115" cy="299.84" r="2.35"/><circle cx="117.02" cy="299.83" r="2.35"/><circle cx="118.89" cy="299.83" r="2.35"/><circle cx="120.63" cy="299.82" r="2.35"/><circle cx="122.26" cy="299.81" r="2.35"/><circle cx="123.79" cy="299.8" r="2.35"/><circle cx="125.23" cy="299.79" r="2.35"/><circle cx="126.6" cy="299.7" r="2.35"/><circle cx="127.89" cy="299.62" r="2.35"/><circle cx="129.12" cy="299.54" r="2.35"/><circle cx="130.29" cy="299.47" r="2.35"/><circle cx="131.42" cy="299.39" r="2.35"/><circle cx="132.49" cy="299.33" r="2.35"/><circle cx="133.52" cy="299.26" r="2.35"/><circle cx="134.51" cy="299.2" r="2.35"/><circle cx="135.46" cy="298.73" r="2.35"/><circle cx="136.38" cy="298.29" r="2.35"/><circle cx="137.27" cy="297.86" r="2.35"/><circle cx="138.12" cy="297.09" r="2.35"/><circle cx="138.95" cy="296.11" r="2.35"/><circle cx="139.75" cy="294.2" r="2.35"/><circle cx="140.53" cy="291.76" r="2.35"/><circle cx="141.28" cy="289.44" r="2.35"/><circle cx="142.01" cy="286.11" r="2.35"/><circle cx="142.72" cy="281.08" r="2.35"/><circle cx="143.41" cy="277.23" r="2.35"/><circle cx="144.09" cy="274.35" r="2.35"/><circle cx="144.74" cy="271.54" r="2.35"/><circle cx="145.38" cy="267.82" r="2.35"/><circle cx="146" cy="262.98" r="2.35"/><circle cx="146.61" cy="258.25" r="2.35"/><circle cx="147.2" cy="254.48" r="2.35"/><circle cx="147.78" cy="251.58" r="2.35"/><circle cx="148.35" cy="248.74" r="2.35"/><circle cx="148.91" cy="245.97" r="2.35"/><circle cx="149.45" cy="243.26" r="2.35"/><circle cx="149.98" cy="240.32" r="2.35"/><circle cx="150.5" cy="236.89" r="2.35"/><circle cx="151.01" cy="233.54" r="2.35"/><circle cx="151.51" cy="230.25" r="2.35"/><circle cx="152" cy="227.83" r="2.35"/><circle cx="152.48" cy="225.97" r="2.35"/><circle cx="152.95" cy="224.13" r="2.35"/><circle cx="153.42" cy="222.33" r="2.35"/><circle cx="153.87" cy="220.37" r="2.35"/><circle cx="154.32" cy="218.41" r="2.35"/><circle cx="154.76" cy="216.48" r="2.35"/><circle cx="155.19" cy="214.58" r="2.35"/><circle cx="155.61" cy="212.71" r="2.35"/><circle cx="156.03" cy="210.9" r="2.35"/><circle cx="156.44" cy="209.37" r="2.35"/><circle cx="156.84" cy="207.87" r="2.35"/><circle cx="157.24" cy="206.39" r="2.35"/><circle cx="157.63" cy="204.93" r="2.35"/><circle cx="158.02" cy="203.5" r="2.35"/><circle cx="158.39" cy="202.09" r="2.35"/><circle cx="158.77" cy="200.7" r="2.35"/><circle cx="159.14" cy="199.33" r="2.35"/><circle cx="159.5" cy="197.98" r="2.35"/><circle cx="159.86" cy="196.64" r="2.35"/><circle cx="160.21" cy="195.33" r="2.35"/><circle cx="160.56" cy="194.23" r="2.35"/><circle cx="160.9" cy="193.22" r="2.35"/><circle cx="161.24" cy="192.22" r="2.35"/><circle cx="161.58" cy="191.23" r="2.35"/><circle cx="161.91" cy="190.26" r="2.35"/><circle cx="162.23" cy="189.3" r="2.35"/><circle cx="162.55" cy="188.35" r="2.35"/><circle cx="162.87" cy="187.41" r="2.35"/><circle cx="163.18" cy="186.48" r="2.35"/><circle cx="163.49" cy="185.57" r="2.35"/><circle cx="163.8" cy="184.66" r="2.35"/><circle cx="164.1" cy="183.77" r="2.35"/><circle cx="164.4" cy="182.89" r="2.35"/><circle cx="164.69" cy="182.02" r="2.35"/><circle cx="164.99" cy="181.28" r="2.35"/><circle cx="165.27" cy="180.56" r="2.35"/><circle cx="165.56" cy="179.84" r="2.35"/><circle cx="165.84" cy="179.13" r="2.35"/><circle cx="166.12" cy="178.43" r="2.35"/><circle cx="166.4" cy="177.74" r="2.35"/><circle cx="166.67" cy="177.05" r="2.35"/><circle cx="166.94" cy="176.38" r="2.35"/><circle cx="167.21" cy="175.71" r="2.35"/><circle cx="167.47" cy="175.04" r="2.35"/><circle cx="167.73" cy="174.39" r="2.35"/><circle cx="167.99" cy="173.74" r="2.35"/><circle cx="168.25" cy="173.09" r="2.35"/><circle cx="168.5" cy="172.46" r="2.35"/><circle cx="168.75" cy="171.83" r="2.35"/><circle cx="169" cy="171.2" r="2.35"/><circle cx="169.25" cy="170.69" r="2.35"/><circle cx="169.49" cy="170.19" r="2.35"/><circle cx="169.73" cy="169.7" r="2.35"/><circle cx="169.97" cy="169.2" r="2.35"/><circle cx="170.21" cy="168.72" r="2.35"/><circle cx="170.44" cy="168.23" r="2.35"/><circle cx="170.67" cy="167.75" r="2.35"/><circle cx="170.9" cy="167.28" r="2.35"/><circle cx="171.13" cy="166.81" r="2.35"/><circle cx="171.36" cy="166.34" r="2.35"/><circle cx="171.58" cy="165.88" r="2.35"/><circle cx="171.81" cy="165.43" r="2.35"/><circle cx="172.03" cy="164.97" r="2.35"/><circle cx="172.25" cy="164.52" r="2.35"/><circle cx="172.46" cy="164.08" r="2.35"/><circle cx="172.68" cy="163.64" r="2.35"/><circle cx="172.89" cy="163.2" r="2.35"/><circle cx="173.1" cy="162.76" r="2.35"/><circle cx="173.31" cy="162.33" r="2.35"/><circle cx="173.52" cy="161.9" r="2.35"/><circle cx="173.72" cy="161.48" r="2.35"/><circle cx="173.93" cy="161.06" r="2.35"/><circle cx="174.13" cy="160.64" r="2.35"/></g><path d="M52.3 300.9 L69.79 300.83 L80.02 300.79 L87.28 300.76 L92.91 300.74 L97.51 300.72 L101.4 300.71 L104.77 300.7 L107.74 300.69 L110.4 300.68 L112.8 300.67 L115 300.66 L117.02 300.65 L118.89 300.64 L120.63 300.64 L122.26 300.63 L123.79 300.62 L125.23 300.62 L126.6 300.61 L127.89 300.61 L129.12 300.6 L130.29 300.57 L131.42 300.45 L132.49 300.33 L133.52 300.22 L134.51 300.12 L135.46 300.02 L136.38 299.92 L137.27 299.82 L138.12 299.73 L138.95 299.64 L139.75 299.56 L140.53 299.47 L141.28 299.39 L142.01 299.32 L142.72 299.24 L143.41 299.17 L144.09 299.09 L144.74 299.02 L145.38 298.96 L146 298.89 L146.61 298.82 L147.2 298.76 L147.78 298.7 L148.35 298.64 L148.91 298.53 L149.45 298.36 L149.98 298.19 L150.5 298.03 L151.01 297.86 L151.51 297.7 L152 297.55 L152.48 297.39 L152.95 297.24 L153.42 297.1 L153.87 296.95 L154.32 296.81 L154.76 296.67 L155.19 296.53 L155.61 296.39 L156.03 296.26 L156.44 296.13 L156.84 296 L157.24 295.87 L157.63 295.75 L158.02 295.63 L158.39 295.47 L158.77 295.31 L159.14 295.16 L159.5 295 L159.86 294.85 L160.21 294.7 L160.56 294.55 L160.9 294.4 L161.24 294.25 L161.58 294.11 L161.91 293.97 L162.23 293.83 L162.55 293.69 L162.87 293.56 L163.18 293.32 L163.49 293.01 L163.8 292.7 L164.1 292.4 L164.4 292.1 L164.69 291.81 L164.99 291.51 L165.27 291.23 L165.56 290.94 L165.84 290.66 L166.12 290.38 L166.4 290.1 L166.67 289.83 L166.94 289.56 L167.21 289.29 L167.47 289.03 L167.73 288.36 L167.99 287.64 L168.25 286.93 L168.5 286.23 L168.75 285.54 L169 284.85 L169.25 284.17 L169.49 283.5 L169.73 282.83 L169.97 282.17 L170.21 281.51 L170.44 280.86 L170.67 279.84 L170.9 278.71 L171.13 277.59 L171.36 276.48 L171.58 275.38 L171.81 274.29 L172.03 273.21 L172.25 272.14 L172.46 271.08 L172.68 269.95 L172.89 268.68 L173.1 267.43 L173.31 266.19 L173.52 264.96 L173.72 263.73 L173.93 262.52 L174.13 261.5" fill="none" stroke="#93937c" stroke-width="1.1" stroke-linejoin="round"/><g fill="#93937c"><rect x="50" y="298.6" width="4.6" height="4.6"/><rect x="67.49" y="298.53" width="4.6" height="4.6"/><rect x="77.72" y="298.49" width="4.6" height="4.6"/><rect x="84.98" y="298.46" width="4.6" height="4.6"/><rect x="90.61" y="298.44" width="4.6" height="4.6"/><rect x="95.21" y="298.42" width="4.6" height="4.6"/><rect x="99.1" y="298.41" width="4.6" height="4.6"/><rect x="102.47" y="298.4" width="4.6" height="4.6"/><rect x="105.44" y="298.39" width="4.6" height="4.6"/><rect x="108.1" y="298.38" width="4.6" height="4.6"/><rect x="110.5" y="298.37" width="4.6" height="4.6"/><rect x="112.7" y="298.36" width="4.6" height="4.6"/><rect x="114.72" y="298.35" width="4.6" height="4.6"/><rect x="116.59" y="298.34" width="4.6" height="4.6"/><rect x="118.33" y="298.34" width="4.6" height="4.6"/><rect x="119.96" y="298.33" width="4.6" height="4.6"/><rect x="121.49" y="298.32" width="4.6" height="4.6"/><rect x="122.93" y="298.32" width="4.6" height="4.6"/><rect x="124.3" y="298.31" width="4.6" height="4.6"/><rect x="125.59" y="298.31" width="4.6" height="4.6"/><rect x="126.82" y="298.3" width="4.6" height="4.6"/><rect x="127.99" y="298.27" width="4.6" height="4.6"/><rect x="129.12" y="298.15" width="4.6" height="4.6"/><rect x="130.19" y="298.03" width="4.6" height="4.6"/><rect x="131.22" y="297.92" width="4.6" height="4.6"/><rect x="132.21" y="297.82" width="4.6" height="4.6"/><rect x="133.16" y="297.72" width="4.6" height="4.6"/><rect x="134.08" y="297.62" width="4.6" height="4.6"/><rect x="134.97" y="297.52" width="4.6" height="4.6"/><rect x="135.82" y="297.43" width="4.6" height="4.6"/><rect x="136.65" y="297.34" width="4.6" height="4.6"/><rect x="137.45" y="297.26" width="4.6" height="4.6"/><rect x="138.23" y="297.17" width="4.6" height="4.6"/><rect x="138.98" y="297.09" width="4.6" height="4.6"/><rect x="139.71" y="297.02" width="4.6" height="4.6"/><rect x="140.42" y="296.94" width="4.6" height="4.6"/><rect x="141.11" y="296.87" width="4.6" height="4.6"/><rect x="141.79" y="296.79" width="4.6" height="4.6"/><rect x="142.44" y="296.72" width="4.6" height="4.6"/><rect x="143.08" y="296.66" width="4.6" height="4.6"/><rect x="143.7" y="296.59" width="4.6" height="4.6"/><rect x="144.31" y="296.52" width="4.6" height="4.6"/><rect x="144.9" y="296.46" width="4.6" height="4.6"/><rect x="145.48" y="296.4" width="4.6" height="4.6"/><rect x="146.05" y="296.34" width="4.6" height="4.6"/><rect x="146.61" y="296.23" width="4.6" height="4.6"/><rect x="147.15" y="296.06" width="4.6" height="4.6"/><rect x="147.68" y="295.89" width="4.6" height="4.6"/><rect x="148.2" y="295.73" width="4.6" height="4.6"/><rect x="148.71" y="295.56" width="4.6" height="4.6"/><rect x="149.21" y="295.4" width="4.6" height="4.6"/><rect x="149.7" y="295.25" width="4.6" height="4.6"/><rect x="150.18" y="295.09" width="4.6" height="4.6"/><rect x="150.65" y="294.94" width="4.6" height="4.6"/><rect x="151.12" y="294.8" width="4.6" height="4.6"/><rect x="151.57" y="294.65" width="4.6" height="4.6"/><rect x="152.02" y="294.51" width="4.6" height="4.6"/><rect x="152.46" y="294.37" width="4.6" height="4.6"/><rect x="152.89" y="294.23" width="4.6" height="4.6"/><rect x="153.31" y="294.09" width="4.6" height="4.6"/><rect x="153.73" y="293.96" width="4.6" height="4.6"/><rect x="154.14" y="293.83" width="4.6" height="4.6"/><rect x="154.54" y="293.7" width="4.6" height="4.6"/><rect x="154.94" y="293.57" width="4.6" height="4.6"/><rect x="155.33" y="293.45" width="4.6" height="4.6"/><rect x="155.72" y="293.33" width="4.6" height="4.6"/><rect x="156.09" y="293.17" width="4.6" height="4.6"/><rect x="156.47" y="293.01" width="4.6" height="4.6"/><rect x="156.84" y="292.86" width="4.6" height="4.6"/><rect x="157.2" y="292.7" width="4.6" height="4.6"/><rect x="157.56" y="292.55" width="4.6" height="4.6"/><rect x="157.91" y="292.4" width="4.6" height="4.6"/><rect x="158.26" y="292.25" width="4.6" height="4.6"/><rect x="158.6" y="292.1" width="4.6" height="4.6"/><rect x="158.94" y="291.95" width="4.6" height="4.6"/><rect x="159.28" y="291.81" width="4.6" height="4.6"/><rect x="159.61" y="291.67" width="4.6" height="4.6"/><rect x="159.93" y="291.53" width="4.6" height="4.6"/><rect x="160.25" y="291.39" width="4.6" height="4.6"/><rect x="160.57" y="291.26" width="4.6" height="4.6"/><rect x="160.88" y="291.02" width="4.6" height="4.6"/><rect x="161.19" y="290.71" width="4.6" height="4.6"/><rect x="161.5" y="290.4" width="4.6" height="4.6"/><rect x="161.8" y="290.1" width="4.6" height="4.6"/><rect x="162.1" y="289.8" width="4.6" height="4.6"/><rect x="162.39" y="289.51" width="4.6" height="4.6"/><rect x="162.69" y="289.21" width="4.6" height="4.6"/><rect x="162.97" y="288.93" width="4.6" height="4.6"/><rect x="163.26" y="288.64" width="4.6" height="4.6"/><rect x="163.54" y="288.36" width="4.6" height="4.6"/><rect x="163.82" y="288.08" width="4.6" height="4.6"/><rect x="164.1" y="287.8" width="4.6" height="4.6"/><rect x="164.37" y="287.53" width="4.6" height="4.6"/><rect x="164.64" y="287.26" width="4.6" height="4.6"/><rect x="164.91" y="286.99" width="4.6" height="4.6"/><rect x="165.17" y="286.73" width="4.6" height="4.6"/><rect x="165.43" y="286.06" width="4.6" height="4.6"/><rect x="165.69" y="285.34" width="4.6" height="4.6"/><rect x="165.95" y="284.63" width="4.6" height="4.6"/><rect x="166.2" y="283.93" width="4.6" height="4.6"/><rect x="166.45" y="283.24" width="4.6" height="4.6"/><rect x="166.7" y="282.55" width="4.6" height="4.6"/><rect x="166.95" y="281.87" width="4.6" height="4.6"/><rect x="167.19" y="281.2" width="4.6" height="4.6"/><rect x="167.43" y="280.53" width="4.6" height="4.6"/><rect x="167.67" y="279.87" width="4.6" height="4.6"/><rect x="167.91" y="279.21" width="4.6" height="4.6"/><rect x="168.14" y="278.56" width="4.6" height="4.6"/><rect x="168.37" y="277.54" width="4.6" height="4.6"/><rect x="168.6" y="276.41" width="4.6" height="4.6"/><rect x="168.83" y="275.29" width="4.6" height="4.6"/><rect x="169.06" y="274.18" width="4.6" height="4.6"/><rect x="169.28" y="273.08" width="4.6" height="4.6"/><rect x="169.51" y="271.99" width="4.6" height="4.6"/><rect x="169.73" y="270.91" width="4.6" height="4.6"/><rect x="169.95" y="269.84" width="4.6" height="4.6"/><rect x="170.16" y="268.78" width="4.6" height="4.6"/><rect x="170.38" y="267.65" width="4.6" height="4.6"/><rect x="170.59" y="266.38" width="4.6" height="4.6"/><rect x="170.8" y="265.13" width="4.6" height="4.6"/><rect x="171.01" y="263.89" width="4.6" height="4.6"/><rect x="171.22" y="262.66" width="4.6" height="4.6"/><rect x="171.42" y="261.43" width="4.6" height="4.6"/><rect x="171.63" y="260.22" width="4.6" height="4.6"/><rect x="171.83" y="259.2" width="4.6" height="4.6"/></g></g>
<line x1="141.95" y1="155.8" x2="141.95" y2="304.4" stroke="#5a5a5a" stroke-width="1.5" stroke-dasharray="7 3.71" stroke-dashoffset="7.51"/>
<line x1="168.35" y1="155.8" x2="168.35" y2="304.4" stroke="#5a5a5a" stroke-width="1.5" stroke-dasharray="7 3.71" stroke-dashoffset="7.51"/>
<rect x="46.3" y="155.8" width="133.7" height="148.6" fill="none" stroke="#a0a0a0" stroke-width="1.1"/>
<path d="M52.3 304.9v2.5M110.4 304.9v2.5M168.5 304.9v2.5M45.8 300.8h-2.5M45.8 262.23h-2.5M45.8 223.67h-2.5M45.8 185.1h-2.5" stroke="#555555" stroke-width="0.9" fill="none"/>
<path d="M46.67 304.9v1.5M49.64 304.9v1.5M69.79 304.9v1.5M80.02 304.9v1.5M87.28 304.9v1.5M92.91 304.9v1.5M97.51 304.9v1.5M101.4 304.9v1.5M104.77 304.9v1.5M107.74 304.9v1.5M127.89 304.9v1.5M138.12 304.9v1.5M145.38 304.9v1.5M151.01 304.9v1.5M155.61 304.9v1.5M159.5 304.9v1.5M162.87 304.9v1.5M165.84 304.9v1.5" stroke="#6a6a6a" stroke-width="0.75" fill="none"/>
<clipPath id="clip1bot"><rect x="196.3" y="155.8" width="133.5" height="148.6"/></clipPath>
<g clip-path="url(#clip1bot)"><path d="M201.4 300.8 L220.73 300.76 L232.03 300.73 L240.05 300.71 L246.27 300.7 L251.36 300.68 L255.66 300.67 L259.38 300.67 L262.66 300.66 L265.6 300.65 L268.26 300.65 L270.68 300.64 L272.92 300.63 L274.98 300.63 L276.91 300.63 L278.7 300.62 L280.39 300.62 L281.99 300.61 L283.5 300.61 L284.93 300.61 L286.29 300.6 L287.58 300.6 L288.82 300.22 L290.01 299.66 L291.15 299.02 L292.24 297.68 L293.29 296.34 L294.31 294.59 L295.29 292.33 L296.23 288.81 L297.15 285.4 L298.03 282.19 L298.89 279.17 L299.72 276.25 L300.53 273.41 L301.31 270.67 L302.08 268.06 L302.82 265.52 L303.55 263.04 L304.25 260.63 L304.94 258.29 L305.61 256.02 L306.27 253.81 L306.91 251.65 L307.54 249.53 L308.15 247.44 L308.75 245.39 L309.34 243.39 L309.91 241.5 L310.47 239.95 L311.03 238.44 L311.57 236.96 L312.1 235.5" fill="none" stroke="#93937c" stroke-width="1.1" stroke-linejoin="round"/><g fill="#93937c"><rect x="199.1" y="298.5" width="4.6" height="4.6"/><rect x="218.43" y="298.46" width="4.6" height="4.6"/><rect x="229.73" y="298.43" width="4.6" height="4.6"/><rect x="237.75" y="298.41" width="4.6" height="4.6"/><rect x="243.97" y="298.4" width="4.6" height="4.6"/><rect x="249.06" y="298.38" width="4.6" height="4.6"/><rect x="253.36" y="298.37" width="4.6" height="4.6"/><rect x="257.08" y="298.37" width="4.6" height="4.6"/><rect x="260.36" y="298.36" width="4.6" height="4.6"/><rect x="263.3" y="298.35" width="4.6" height="4.6"/><rect x="265.96" y="298.35" width="4.6" height="4.6"/><rect x="268.38" y="298.34" width="4.6" height="4.6"/><rect x="270.62" y="298.33" width="4.6" height="4.6"/><rect x="272.68" y="298.33" width="4.6" height="4.6"/><rect x="274.61" y="298.33" width="4.6" height="4.6"/><rect x="276.4" y="298.32" width="4.6" height="4.6"/><rect x="278.09" y="298.32" width="4.6" height="4.6"/><rect x="279.69" y="298.31" width="4.6" height="4.6"/><rect x="281.2" y="298.31" width="4.6" height="4.6"/><rect x="282.63" y="298.31" width="4.6" height="4.6"/><rect x="283.99" y="298.3" width="4.6" height="4.6"/><rect x="285.28" y="298.3" width="4.6" height="4.6"/><rect x="286.52" y="297.92" width="4.6" height="4.6"/><rect x="287.71" y="297.36" width="4.6" height="4.6"/><rect x="288.85" y="296.72" width="4.6" height="4.6"/><rect x="289.94" y="295.38" width="4.6" height="4.6"/><rect x="290.99" y="294.04" width="4.6" height="4.6"/><rect x="292.01" y="292.29" width="4.6" height="4.6"/><rect x="292.99" y="290.03" width="4.6" height="4.6"/><rect x="293.93" y="286.51" width="4.6" height="4.6"/><rect x="294.85" y="283.1" width="4.6" height="4.6"/><rect x="295.73" y="279.89" width="4.6" height="4.6"/><rect x="296.59" y="276.87" width="4.6" height="4.6"/><rect x="297.42" y="273.95" width="4.6" height="4.6"/><rect x="298.23" y="271.11" width="4.6" height="4.6"/><rect x="299.01" y="268.37" width="4.6" height="4.6"/><rect x="299.78" y="265.76" width="4.6" height="4.6"/><rect x="300.52" y="263.22" width="4.6" height="4.6"/><rect x="301.25" y="260.74" width="4.6" height="4.6"/><rect x="301.95" y="258.33" width="4.6" height="4.6"/><rect x="302.64" y="255.99" width="4.6" height="4.6"/><rect x="303.31" y="253.72" width="4.6" height="4.6"/><rect x="303.97" y="251.51" width="4.6" height="4.6"/><rect x="304.61" y="249.35" width="4.6" height="4.6"/><rect x="305.24" y="247.23" width="4.6" height="4.6"/><rect x="305.85" y="245.14" width="4.6" height="4.6"/><rect x="306.45" y="243.09" width="4.6" height="4.6"/><rect x="307.04" y="241.09" width="4.6" height="4.6"/><rect x="307.61" y="239.2" width="4.6" height="4.6"/><rect x="308.17" y="237.65" width="4.6" height="4.6"/><rect x="308.73" y="236.14" width="4.6" height="4.6"/><rect x="309.27" y="234.66" width="4.6" height="4.6"/><rect x="309.8" y="233.2" width="4.6" height="4.6"/></g><path d="M201.4 300.6 L220.73 300.55 L232.03 300.53 L240.05 300.51 L246.27 300.49 L251.36 300.48 L255.66 300.47 L259.38 300.46 L262.66 300.45 L265.6 300.44 L268.26 300.44 L270.68 300.43 L272.92 300.43 L274.98 300.42 L276.91 300.42 L278.7 300.41 L280.39 300.41 L281.99 300.4 L283.5 300.4 L284.93 300.19 L286.29 299.88 L287.58 299.53 L288.82 298.54 L290.01 297.01 L291.15 295.17 L292.24 289.84 L293.29 285.36 L294.31 280.99 L295.29 276.2 L296.23 271.49 L297.15 266.75 L298.03 262.29 L298.89 258.1 L299.72 254.29 L300.53 251 L301.31 247.79 L302.08 244.55 L302.82 240.24 L303.55 236.38 L304.25 233.89 L304.94 231.46 L305.61 229.09 L306.27 226.77 L306.91 224.52 L307.54 222.32 L308.15 220.18 L308.75 218.08 L309.34 216.03 L309.91 214 L310.47 211.94 L311.03 209.92 L311.57 207.95 L312.1 206.01" fill="none" stroke="#ff1208" stroke-width="1.1" stroke-linejoin="round"/><g fill="#ff1208"><circle cx="201.4" cy="300.6" r="2.35"/><circle cx="220.73" cy="300.55" r="2.35"/><circle cx="232.03" cy="300.53" r="2.35"/><circle cx="240.05" cy="300.51" r="2.35"/><circle cx="246.27" cy="300.49" r="2.35"/><circle cx="251.36" cy="300.48" r="2.35"/><circle cx="255.66" cy="300.47" r="2.35"/><circle cx="259.38" cy="300.46" r="2.35"/><circle cx="262.66" cy="300.45" r="2.35"/><circle cx="265.6" cy="300.44" r="2.35"/><circle cx="268.26" cy="300.44" r="2.35"/><circle cx="270.68" cy="300.43" r="2.35"/><circle cx="272.92" cy="300.43" r="2.35"/><circle cx="274.98" cy="300.42" r="2.35"/><circle cx="276.91" cy="300.42" r="2.35"/><circle cx="278.7" cy="300.41" r="2.35"/><circle cx="280.39" cy="300.41" r="2.35"/><circle cx="281.99" cy="300.4" r="2.35"/><circle cx="283.5" cy="300.4" r="2.35"/><circle cx="284.93" cy="300.19" r="2.35"/><circle cx="286.29" cy="299.88" r="2.35"/><circle cx="287.58" cy="299.53" r="2.35"/><circle cx="288.82" cy="298.54" r="2.35"/><circle cx="290.01" cy="297.01" r="2.35"/><circle cx="291.15" cy="295.17" r="2.35"/><circle cx="292.24" cy="289.84" r="2.35"/><circle cx="293.29" cy="285.36" r="2.35"/><circle cx="294.31" cy="280.99" r="2.35"/><circle cx="295.29" cy="276.2" r="2.35"/><circle cx="296.23" cy="271.49" r="2.35"/><circle cx="297.15" cy="266.75" r="2.35"/><circle cx="298.03" cy="262.29" r="2.35"/><circle cx="298.89" cy="258.1" r="2.35"/><circle cx="299.72" cy="254.29" r="2.35"/><circle cx="300.53" cy="251" r="2.35"/><circle cx="301.31" cy="247.79" r="2.35"/><circle cx="302.08" cy="244.55" r="2.35"/><circle cx="302.82" cy="240.24" r="2.35"/><circle cx="303.55" cy="236.38" r="2.35"/><circle cx="304.25" cy="233.89" r="2.35"/><circle cx="304.94" cy="231.46" r="2.35"/><circle cx="305.61" cy="229.09" r="2.35"/><circle cx="306.27" cy="226.77" r="2.35"/><circle cx="306.91" cy="224.52" r="2.35"/><circle cx="307.54" cy="222.32" r="2.35"/><circle cx="308.15" cy="220.18" r="2.35"/><circle cx="308.75" cy="218.08" r="2.35"/><circle cx="309.34" cy="216.03" r="2.35"/><circle cx="309.91" cy="214" r="2.35"/><circle cx="310.47" cy="211.94" r="2.35"/><circle cx="311.03" cy="209.92" r="2.35"/><circle cx="311.57" cy="207.95" r="2.35"/><circle cx="312.1" cy="206.01" r="2.35"/></g></g>
<line x1="292.3" y1="155.8" x2="292.3" y2="304.4" stroke="#5a5a5a" stroke-width="1.5" stroke-dasharray="7 3.71" stroke-dashoffset="7.51"/>
<rect x="196.3" y="155.8" width="133.5" height="148.6" fill="none" stroke="#a0a0a0" stroke-width="1.1"/>
<path d="M201.4 304.9v2.5M265.6 304.9v2.5M329.8 304.9v2.5M195.8 300.8h-2.5M195.8 262.23h-2.5M195.8 223.67h-2.5M195.8 185.1h-2.5" stroke="#555555" stroke-width="0.9" fill="none"/>
<path d="M198.46 304.9v1.5M220.73 304.9v1.5M232.03 304.9v1.5M240.05 304.9v1.5M246.27 304.9v1.5M251.36 304.9v1.5M255.66 304.9v1.5M259.38 304.9v1.5M262.66 304.9v1.5M284.93 304.9v1.5M296.23 304.9v1.5M304.25 304.9v1.5M310.47 304.9v1.5M315.56 304.9v1.5M319.86 304.9v1.5M323.58 304.9v1.5M326.86 304.9v1.5" stroke="#6a6a6a" stroke-width="0.75" fill="none"/>
<clipPath id="clip2bot"><rect x="346" y="155.8" width="133.6" height="148.6"/></clipPath>
<g clip-path="url(#clip2bot)"><path d="M351.4 300.8 L370.73 300.65 L382.03 300.56 L390.05 300.5 L396.27 300.46 L401.36 300.42 L405.66 300.38 L409.38 300.35 L412.66 300.33 L415.6 300.31 L418.26 299.7 L420.68 298.23 L422.92 293 L424.98 281.37 L426.91 270.63 L428.7 262.58 L430.39 255.82 L431.99 249.69 L433.5 245.22 L434.93 241.3 L436.29 237.71 L437.58 234.37 L438.82 231.01 L440.01 227.36 L441.15 223.85 L442.24 220.49 L443.29 217.82 L444.31 215.35 L445.29 212.96 L446.23 210.66 L447.15 208.53 L448.03 206.52 L448.89 204.57 L449.72 202.68 L450.53 200.84 L451.31 199.19 L452.08 197.69 L452.82 196.24 L453.55 194.82 L454.25 193.44 L454.94 192.09 L455.61 190.77 L456.27 189.43 L456.91 188.13 L457.54 186.85 L458.15 185.6" fill="none" stroke="#93937c" stroke-width="1.1" stroke-linejoin="round"/><g fill="#93937c"><rect x="349.1" y="298.5" width="4.6" height="4.6"/><rect x="368.43" y="298.35" width="4.6" height="4.6"/><rect x="379.73" y="298.26" width="4.6" height="4.6"/><rect x="387.75" y="298.2" width="4.6" height="4.6"/><rect x="393.97" y="298.16" width="4.6" height="4.6"/><rect x="399.06" y="298.12" width="4.6" height="4.6"/><rect x="403.36" y="298.08" width="4.6" height="4.6"/><rect x="407.08" y="298.05" width="4.6" height="4.6"/><rect x="410.36" y="298.03" width="4.6" height="4.6"/><rect x="413.3" y="298.01" width="4.6" height="4.6"/><rect x="415.96" y="297.4" width="4.6" height="4.6"/><rect x="418.38" y="295.93" width="4.6" height="4.6"/><rect x="420.62" y="290.7" width="4.6" height="4.6"/><rect x="422.68" y="279.07" width="4.6" height="4.6"/><rect x="424.61" y="268.33" width="4.6" height="4.6"/><rect x="426.4" y="260.28" width="4.6" height="4.6"/><rect x="428.09" y="253.52" width="4.6" height="4.6"/><rect x="429.69" y="247.39" width="4.6" height="4.6"/><rect x="431.2" y="242.92" width="4.6" height="4.6"/><rect x="432.63" y="239" width="4.6" height="4.6"/><rect x="433.99" y="235.41" width="4.6" height="4.6"/><rect x="435.28" y="232.07" width="4.6" height="4.6"/><rect x="436.52" y="228.71" width="4.6" height="4.6"/><rect x="437.71" y="225.06" width="4.6" height="4.6"/><rect x="438.85" y="221.55" width="4.6" height="4.6"/><rect x="439.94" y="218.19" width="4.6" height="4.6"/><rect x="440.99" y="215.52" width="4.6" height="4.6"/><rect x="442.01" y="213.05" width="4.6" height="4.6"/><rect x="442.99" y="210.66" width="4.6" height="4.6"/><rect x="443.93" y="208.36" width="4.6" height="4.6"/><rect x="444.85" y="206.23" width="4.6" height="4.6"/><rect x="445.73" y="204.22" width="4.6" height="4.6"/><rect x="446.59" y="202.27" width="4.6" height="4.6"/><rect x="447.42" y="200.38" width="4.6" height="4.6"/><rect x="448.23" y="198.54" width="4.6" height="4.6"/><rect x="449.01" y="196.89" width="4.6" height="4.6"/><rect x="449.78" y="195.39" width="4.6" height="4.6"/><rect x="450.52" y="193.94" width="4.6" height="4.6"/><rect x="451.25" y="192.52" width="4.6" height="4.6"/><rect x="451.95" y="191.14" width="4.6" height="4.6"/><rect x="452.64" y="189.79" width="4.6" height="4.6"/><rect x="453.31" y="188.47" width="4.6" height="4.6"/><rect x="453.97" y="187.13" width="4.6" height="4.6"/><rect x="454.61" y="185.83" width="4.6" height="4.6"/><rect x="455.24" y="184.55" width="4.6" height="4.6"/><rect x="455.85" y="183.3" width="4.6" height="4.6"/></g><path d="M351.4 300.7 L370.73 300.66 L382.03 300.64 L390.05 300.62 L396.27 300.61 L401.36 300.55 L405.66 300.39 L409.38 300.26 L412.66 300.14 L415.6 300.03 L418.26 299.4 L420.68 297.93 L422.92 292.66 L424.98 280.58 L426.91 269.04 L428.7 260.84 L430.39 253.3 L431.99 246.03 L433.5 239.9 L434.93 234.18 L436.29 230.78 L437.58 227.27 L438.82 223.58 L440.01 220.06 L441.15 216.66 L442.24 213.38 L443.29 210.22 L444.31 207.18 L445.29 204.28 L446.23 201.88 L447.15 199.55 L448.03 197.3 L448.89 195.12 L449.72 193 L450.53 191.17 L451.31 189.42 L452.08 187.71 L452.82 186.05 L453.55 184.43 L454.25 182.85 L454.94 181.49 L455.61 180.26 L456.27 179.05 L456.91 177.87 L457.54 176.72 L458.15 175.59" fill="none" stroke="#ff1208" stroke-width="1.1" stroke-linejoin="round"/><g fill="#ff1208"><circle cx="351.4" cy="300.7" r="2.35"/><circle cx="370.73" cy="300.66" r="2.35"/><circle cx="382.03" cy="300.64" r="2.35"/><circle cx="390.05" cy="300.62" r="2.35"/><circle cx="396.27" cy="300.61" r="2.35"/><circle cx="401.36" cy="300.55" r="2.35"/><circle cx="405.66" cy="300.39" r="2.35"/><circle cx="409.38" cy="300.26" r="2.35"/><circle cx="412.66" cy="300.14" r="2.35"/><circle cx="415.6" cy="300.03" r="2.35"/><circle cx="418.26" cy="299.4" r="2.35"/><circle cx="420.68" cy="297.93" r="2.35"/><circle cx="422.92" cy="292.66" r="2.35"/><circle cx="424.98" cy="280.58" r="2.35"/><circle cx="426.91" cy="269.04" r="2.35"/><circle cx="428.7" cy="260.84" r="2.35"/><circle cx="430.39" cy="253.3" r="2.35"/><circle cx="431.99" cy="246.03" r="2.35"/><circle cx="433.5" cy="239.9" r="2.35"/><circle cx="434.93" cy="234.18" r="2.35"/><circle cx="436.29" cy="230.78" r="2.35"/><circle cx="437.58" cy="227.27" r="2.35"/><circle cx="438.82" cy="223.58" r="2.35"/><circle cx="440.01" cy="220.06" r="2.35"/><circle cx="441.15" cy="216.66" r="2.35"/><circle cx="442.24" cy="213.38" r="2.35"/><circle cx="443.29" cy="210.22" r="2.35"/><circle cx="444.31" cy="207.18" r="2.35"/><circle cx="445.29" cy="204.28" r="2.35"/><circle cx="446.23" cy="201.88" r="2.35"/><circle cx="447.15" cy="199.55" r="2.35"/><circle cx="448.03" cy="197.3" r="2.35"/><circle cx="448.89" cy="195.12" r="2.35"/><circle cx="449.72" cy="193" r="2.35"/><circle cx="450.53" cy="191.17" r="2.35"/><circle cx="451.31" cy="189.42" r="2.35"/><circle cx="452.08" cy="187.71" r="2.35"/><circle cx="452.82" cy="186.05" r="2.35"/><circle cx="453.55" cy="184.43" r="2.35"/><circle cx="454.25" cy="182.85" r="2.35"/><circle cx="454.94" cy="181.49" r="2.35"/><circle cx="455.61" cy="180.26" r="2.35"/><circle cx="456.27" cy="179.05" r="2.35"/><circle cx="456.91" cy="177.87" r="2.35"/><circle cx="457.54" cy="176.72" r="2.35"/><circle cx="458.15" cy="175.59" r="2.35"/></g></g>
<line x1="422.6" y1="155.8" x2="422.6" y2="304.4" stroke="#5a5a5a" stroke-width="1.5" stroke-dasharray="7 3.71" stroke-dashoffset="7.51"/>
<rect x="346" y="155.8" width="133.6" height="148.6" fill="none" stroke="#a0a0a0" stroke-width="1.1"/>
<path d="M351.4 304.9v2.5M415.6 304.9v2.5M345.5 300.8h-2.5M345.5 262.23h-2.5M345.5 223.67h-2.5M345.5 185.1h-2.5" stroke="#555555" stroke-width="0.9" fill="none"/>
<path d="M348.46 304.9v1.5M370.73 304.9v1.5M382.03 304.9v1.5M390.05 304.9v1.5M396.27 304.9v1.5M401.36 304.9v1.5M405.66 304.9v1.5M409.38 304.9v1.5M412.66 304.9v1.5M434.93 304.9v1.5M446.23 304.9v1.5M454.25 304.9v1.5M460.47 304.9v1.5M465.56 304.9v1.5M469.86 304.9v1.5M473.58 304.9v1.5M476.86 304.9v1.5" stroke="#6a6a6a" stroke-width="0.75" fill="none"/>
<text x="41.3" y="320.2" font-family="Liberation Serif" stroke="#000" stroke-width="0.22" font-size="13.6">10</text>
<text x="53.7" y="315" font-family="Liberation Serif" stroke="#000" stroke-width="0.22" font-size="10" letter-spacing="-0.9">−3</text>
<text x="99.4" y="320.2" font-family="Liberation Serif" stroke="#000" stroke-width="0.22" font-size="13.6">10</text>
<text x="111.8" y="315" font-family="Liberation Serif" stroke="#000" stroke-width="0.22" font-size="10" letter-spacing="-0.9">−2</text>
<text x="157.5" y="320.2" font-family="Liberation Serif" stroke="#000" stroke-width="0.22" font-size="13.6">10</text>
<text x="169.9" y="315" font-family="Liberation Serif" stroke="#000" stroke-width="0.22" font-size="10" letter-spacing="-0.9">−1</text>
<text x="190.4" y="320.2" font-family="Liberation Serif" stroke="#000" stroke-width="0.22" font-size="13.6">10</text>
<text x="202.8" y="315" font-family="Liberation Serif" stroke="#000" stroke-width="0.22" font-size="10" letter-spacing="-0.9">−3</text>
<text x="254.6" y="320.2" font-family="Liberation Serif" stroke="#000" stroke-width="0.22" font-size="13.6">10</text>
<text x="267" y="315" font-family="Liberation Serif" stroke="#000" stroke-width="0.22" font-size="10" letter-spacing="-0.9">−2</text>
<text x="318.8" y="320.2" font-family="Liberation Serif" stroke="#000" stroke-width="0.22" font-size="13.6">10</text>
<text x="331.2" y="315" font-family="Liberation Serif" stroke="#000" stroke-width="0.22" font-size="10" letter-spacing="-0.9">−1</text>
<text x="340.4" y="320.2" font-family="Liberation Serif" stroke="#000" stroke-width="0.22" font-size="13.6">10</text>
<text x="352.8" y="315" font-family="Liberation Serif" stroke="#000" stroke-width="0.22" font-size="10" letter-spacing="-0.9">−3</text>
<text x="404.6" y="320.2" font-family="Liberation Serif" stroke="#000" stroke-width="0.22" font-size="13.6">10</text>
<text x="417" y="315" font-family="Liberation Serif" stroke="#000" stroke-width="0.22" font-size="10" letter-spacing="-0.9">−2</text>
<text x="468.8" y="320.2" font-family="Liberation Serif" stroke="#000" stroke-width="0.22" font-size="13.6">10</text>
<text x="481.2" y="315" font-family="Liberation Serif" stroke="#000" stroke-width="0.22" font-size="10" letter-spacing="-0.9">−1</text>
<text x="22.25" y="26.2" font-family="Liberation Serif" stroke="#000" stroke-width="0.22" font-size="13.6">10</text>
<text x="36.8" y="19.6" font-family="Liberation Serif" stroke="#000" stroke-width="0.22" font-size="10">1</text>
<text x="22.25" y="100.5" font-family="Liberation Serif" stroke="#000" stroke-width="0.22" font-size="13.6">10</text>
<text x="36.8" y="93.9" font-family="Liberation Serif" stroke="#000" stroke-width="0.22" font-size="10">0</text>
<text transform="translate(40.3 304.3) scale(0.89 1)" x="0" y="0" text-anchor="end" font-family="Liberation Serif" stroke="#000" stroke-width="0.22" font-size="13.9">0.0</text>
<text transform="translate(40.3 265.73) scale(0.89 1)" x="0" y="0" text-anchor="end" font-family="Liberation Serif" stroke="#000" stroke-width="0.22" font-size="13.9">0.2</text>
<text transform="translate(40.3 227.17) scale(0.89 1)" x="0" y="0" text-anchor="end" font-family="Liberation Serif" stroke="#000" stroke-width="0.22" font-size="13.9">0.4</text>
<text transform="translate(40.3 188.6) scale(0.89 1)" x="0" y="0" text-anchor="end" font-family="Liberation Serif" stroke="#000" stroke-width="0.22" font-size="13.9">0.6</text>
<text transform="translate(15.7 77.9) rotate(-90)" font-family="Liberation Serif" stroke="#000" stroke-width="0.22" font-style="italic" font-size="18.5">χ</text>
<text transform="translate(8.5 66.3) rotate(-90) scale(1.22 1)" font-family="Liberation Serif" stroke="#000" stroke-width="0.22" font-style="italic" font-size="11.4">layer</text>
<text transform="translate(15.6 249.1) rotate(-90)" font-family="Liberation Serif" stroke="#000" stroke-width="0.22" font-style="italic" font-size="18.5">ρ</text>
<text transform="translate(8.5 238.6) rotate(-90) scale(1.22 1)" font-family="Liberation Serif" stroke="#000" stroke-width="0.22" font-style="italic" font-size="11.4">layer</text>
<text transform="translate(107.9 343.3) scale(1.14 1)" x="-5.55" y="0" font-family="Liberation Serif" stroke="#000" stroke-width="0.22" font-size="22">λ</text>
<text transform="translate(263.1 343.3) scale(1.14 1)" x="-5.55" y="0" font-family="Liberation Serif" stroke="#000" stroke-width="0.22" font-size="22">λ</text>
<text transform="translate(413.25 343.3) scale(1.14 1)" x="-5.55" y="0" font-family="Liberation Serif" stroke="#000" stroke-width="0.22" font-size="22">λ</text>
<line x1="50.9" y1="173.7" x2="79.1" y2="173.7" stroke="#ff1208" stroke-width="1.1"/>
<circle cx="65.2" cy="173.7" r="3.55" fill="#ff1208"/>
<line x1="50.9" y1="193.5" x2="79.1" y2="193.5" stroke="#93937c" stroke-width="1.1"/>
<rect x="61.8" y="190.1" width="6.8" height="6.8" fill="#93937c"/>
<text x="81.2" y="177.9" font-family="Liberation Serif" font-weight="bold" font-size="14.8">Layer 1</text>
<text x="81.2" y="197.5" font-family="Liberation Serif" font-weight="bold" font-size="14.8">Layer 2</text>
</svg>
</body></html>
